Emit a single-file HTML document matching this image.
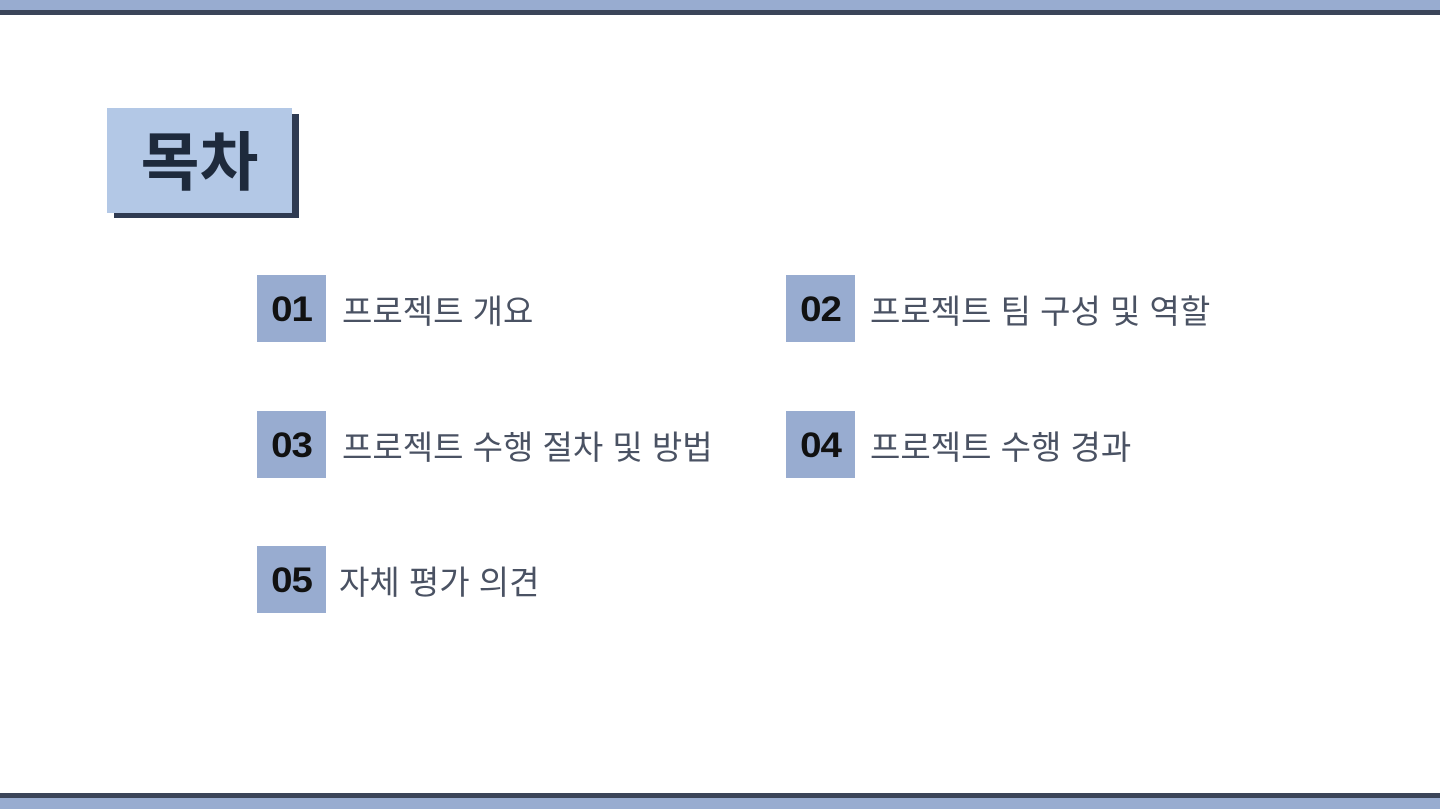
<!DOCTYPE html>
<html><head><meta charset="utf-8"><style>
body{margin:0;width:1440px;height:809px;position:relative;background:#fff;overflow:hidden;font-family:"Liberation Sans","Noto Sans CJK KR",sans-serif}
.a{position:absolute}
.num{position:absolute;width:69px;height:67px;background:#98acd0;color:#111;font-weight:bold;font-size:35px;line-height:69px;text-align:center;letter-spacing:-1px}
.num span{display:inline-block;transform:scaleX(1.1)}
.t{position:absolute;font-size:33px;color:#4a5263;line-height:73px;white-space:nowrap}
</style></head><body>
<div class="a" style="left:0;top:0;width:1440px;height:10px;background:#98acd0"></div>
<div class="a" style="left:0;top:10px;width:1440px;height:5px;background:#3b4559"></div>
<div class="a" style="left:0;top:793px;width:1440px;height:5px;background:#3b4559"></div>
<div class="a" style="left:0;top:798px;width:1440px;height:11px;background:#98acd0"></div>
<div class="a" style="left:114px;top:114px;width:185px;height:104px;background:#2f3b52"></div>
<div class="a" style="left:107px;top:108px;width:185px;height:105px;background:#b3c8e6;color:#1e2a3c;font-weight:bold;font-size:64px;line-height:110px;text-align:center">목차</div>
<div class="num" style="left:257px;top:275px"><span>01</span></div>
<div class="t" style="left:342px;top:275px">프로젝트 개요</div>
<div class="num" style="left:786px;top:275px"><span>02</span></div>
<div class="t" style="left:870px;top:275px">프로젝트 팀 구성 및 역할</div>
<div class="num" style="left:257px;top:411px"><span>03</span></div>
<div class="t" style="left:342px;top:411px">프로젝트 수행 절차 및 방법</div>
<div class="num" style="left:786px;top:411px"><span>04</span></div>
<div class="t" style="left:870px;top:411px">프로젝트 수행 경과</div>
<div class="num" style="left:257px;top:546px"><span>05</span></div>
<div class="t" style="left:339px;top:546px">자체 평가 의견</div>
</body></html>
